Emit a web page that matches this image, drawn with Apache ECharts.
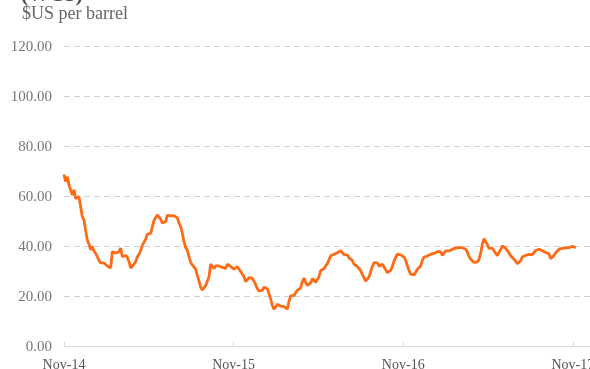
<!DOCTYPE html>
<html>
<head>
<meta charset="utf-8">
<script src="https://cdn.jsdelivr.net/npm/echarts@6/dist/echarts.min.js"></script>
<style>
html,body{margin:0;padding:0;background:#ffffff;}
#chart{width:590px;height:369px;}
</style>
</head>
<body>
<div id="chart"></div>
<script>
// ---- Text ----
const titleLine = '(WCS)';
const unitLabel = '$US per barrel';
const tickLabels = ['Nov-14', 'Nov-15', 'Nov-16', 'Nov-17'];

// ---- Time base: days since 1 Nov 2014, one sample every ~3.6 days ----
const sampleStepDays = 3.589;
const daysPerYear = 365.25;
const axisEndDay = 1132.6;

// ---- WCS price, $US per barrel ----
const prices = [
  68.9, 66, 68, 64.7, 62.7, 60.7, 62.7, 59.3, 60, 60,
  59.3, 52, 50.7, 46.5, 42.7, 41, 38.7, 40, 38.3, 37.3,
  36, 34.5, 33.5, 33.5, 33.5, 33, 32.3, 32, 31.5, 38,
  38.5, 37.5, 37.5, 38, 39.5, 36, 36.5, 36.5, 35.7, 34,
  31.5, 31, 33, 34, 36, 37, 38.5, 40.5, 41, 43,
  45, 45.3, 45.3, 48, 50.5, 51.7, 52.7, 52, 51, 49.5,
  48.9, 50, 52.5, 52.5, 52.3, 53.1, 52.4, 52.3, 51.5, 49.5,
  48, 45.3, 42, 39.7, 38.5, 36, 33.7, 32.7, 32, 31,
  28.5, 26.2, 23.8, 22.7, 23.5, 24.4, 24.3, 28, 33, 32.5,
  31.3, 32.3, 32.3, 32.3, 32.4, 31.7, 31, 31.3, 33, 33.2,
  32, 31.7, 31, 31, 32, 31.8, 30.1, 29.3, 28, 26,
  26.5, 27.6, 28, 27.3, 26.2, 24.8, 23.2, 22.3, 22.4, 22.5,
  23.8, 24.4, 23.2, 21.2, 19, 16.5, 15, 15.2, 17, 17,
  16.2, 16.5, 16, 15.5, 15, 18.3, 20.3, 20.4, 20.5, 21.6,
  22.5, 23, 23.5, 26, 27.5, 25.7, 24.5, 25, 25.5, 27.3,
  27.5, 25.8, 25.5, 28, 30.5, 31, 31.2, 32.3, 33.2, 34.8,
  36.4, 36.7, 37, 37.3, 37.6, 38, 38.4, 38, 36.8, 36.3,
  36.7, 35.5, 35, 34.5, 33, 32.4, 32, 31.8, 30.5, 28.8,
  27.5, 26.2, 26.1, 27.9, 30, 32.1, 33.6, 34, 33.5, 32.2,
  31.8, 33, 32.8, 30.8, 29.6, 30, 30.5, 32.2, 34.2, 35.8,
  37, 37.1, 36.7, 36.5, 35.8, 34.5, 32.5, 30.5, 29, 29,
  28.7, 29.5, 31, 30.8, 32.3, 34.5, 35.8, 35.6, 36.3, 37,
  37, 37, 37.3, 37.6, 38, 38.3, 38, 36.5, 37, 38.3,
  38.4, 38.3, 38.7, 39, 39, 39.4, 39.7, 39.6, 39.7, 39.6,
  39.7, 39, 37.9, 36.1, 35, 34.4, 33.7, 33.3, 33.9, 35,
  37.5, 41, 43.2, 43.1, 40.8, 39.3, 39.6, 39.4, 38.4, 37.4,
  36.4, 36.9, 38.9, 40.3, 40.1, 39.3, 38.7, 37.5, 36.4, 35.7,
  35, 34.4, 33.2, 33, 34.4, 36, 36.3, 36.5, 36.6, 36.9,
  37, 36.8, 37.3, 38.5, 39.3, 39, 38.7, 38.4, 38, 37.7,
  37.6, 37.2, 35.2, 34.8, 36.5, 37.6, 38.3, 39, 39, 39.3,
  40, 39.5, 39, 39.6, 40.3, 40.2, 39.6, 39.6
];

const yMin = 0, yMax = 120, yStep = 20;

const seriesData = prices.map((p, i) => [i * sampleStepDays, p]);

const serifFont = '"Liberation Serif", "DejaVu Serif", serif';

const chart = echarts.init(document.getElementById('chart'), null, { renderer: 'canvas' });
chart.setOption({
  animation: false,
  backgroundColor: '#ffffff',
  grid: { left: 64, right: 0, top: 46.7, bottom: 22.3, containLabel: false, outerBoundsMode: 'none' },
  graphic: [
    { type: 'text', left: 21, top: -15,
      style: { text: titleLine, font: 'bold 21px ' + serifFont, fill: '#4a4a4a' } },
    { type: 'text', left: 22, top: 5,
      style: { text: unitLabel, font: '18px ' + serifFont, fill: '#666666' } }
  ],
  xAxis: {
    type: 'value',
    min: 0,
    max: axisEndDay,
    interval: daysPerYear,
    axisLine: { show: true, lineStyle: { color: '#d9d9d9', width: 1 } },
    axisTick: { show: true, inside: true, length: 5, lineStyle: { color: '#d9d9d9' } },
    splitLine: { show: false },
    axisLabel: {
      showMaxLabel: false,
      hideOverlap: false,
      margin: 12,
      color: '#555555',
      fontFamily: serifFont,
      fontSize: 14,
      formatter: function (v) {
        const k = v / daysPerYear;
        const r = Math.round(k);
        return (Math.abs(k - r) < 0.01 && tickLabels[r]) ? tickLabels[r] : '';
      }
    }
  },
  yAxis: {
    type: 'value',
    min: yMin,
    max: yMax,
    interval: yStep,
    axisLine: { show: false },
    axisTick: { show: false },
    splitLine: { show: true, lineStyle: { color: '#d0d0d0', width: 1, type: [6, 4] } },
    axisLabel: {
      margin: 12,
      color: '#777777',
      fontFamily: serifFont,
      fontSize: 15,
      formatter: v => v.toFixed(2)
    }
  },
  series: [{
    type: 'line',
    data: seriesData,
    showSymbol: false,
    symbol: 'none',
    lineStyle: { color: '#ff6a14', width: 2.8 },
    itemStyle: { color: '#ff6a14' }
  }]
});
</script>
</body>
</html>
